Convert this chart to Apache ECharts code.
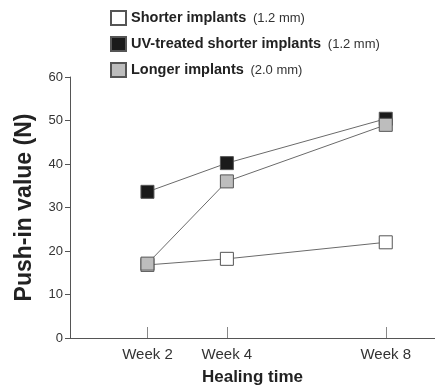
<!DOCTYPE html>
<html><head><meta charset="utf-8">
<script src="https://cdn.jsdelivr.net/npm/echarts@6/dist/echarts.min.js"></script>
<style>html,body{margin:0;padding:0;background:#fff}#c{width:435px;height:391px}</style>
</head><body><div id="c"></div>
<script>
const weeks = [2, 4, 8];
const weekLabels = ['Week 2', 'Week 4', 'Week 8'];
const seriesNames = ['Shorter implants', 'UV-treated shorter implants', 'Longer implants'];
const seriesSizes = ['(1.2 mm)', '(1.2 mm)', '(2.0 mm)'];
const shorter = [16.8, 18.2, 22.0];
const uvShorter = [33.6, 40.2, 50.4];
const longer = [17.1, 36.0, 49.0];
const yTicks = [0, 10, 20, 30, 40, 50, 60];
const fills = ['#ffffff', '#1a1a1a', '#bdbdbd'];
const allValues = [shorter, uvShorter, longer];

const font = 'Arial, "Liberation Sans", sans-serif';
const chart = echarts.init(document.getElementById('c'));
chart.setOption({
  animation: false,
  textStyle: {fontFamily: font},
  grid: {left: 70, right: 0, top: 77, bottom: 50, containLabel: false},
  legend: {
    orient: 'vertical', left: 110, top: 10, padding: 0,
    itemWidth: 15, itemHeight: 14, itemGap: 10,
    icon: 'rect',
    data: seriesNames,
    formatter: function (name) {
      const i = seriesNames.indexOf(name);
      return '{b|' + name + '}  {n|' + seriesSizes[i] + '}';
    },
    textStyle: {
      rich: {
        b: {fontFamily: font, fontWeight: 'bold', fontSize: 14.5, color: '#222', lineHeight: 15},
        n: {fontFamily: font, fontSize: 13, color: '#333', lineHeight: 15}
      }
    }
  },
  xAxis: {
    type: 'value', min: 0.05, max: 9.24,
    name: 'Healing time', nameLocation: 'middle', nameGap: 31,
    nameTextStyle: {fontFamily: font, fontWeight: 'bold', fontSize: 17, color: '#222'},
    axisLine: {show: true, onZero: false, lineStyle: {color: '#555', width: 1}},
    axisTick: {show: true, inside: true, length: 11, customValues: weeks, lineStyle: {color: '#888'}},
    axisLabel: {customValues: weeks, formatter: function (v) { return weekLabels[weeks.indexOf(v)] || ''; }, fontSize: 15, color: '#333', margin: 9, fontFamily: font},
    splitLine: {show: false}
  },
  yAxis: {
    type: 'value', min: 0, max: 60, interval: 10,
    name: 'Push-in value (N)', nameLocation: 'middle', nameGap: 34,
    nameTextStyle: {fontFamily: font, fontWeight: 'bold', fontSize: 23, color: '#222'},
    axisLine: {show: true, lineStyle: {color: '#555', width: 1}},
    axisTick: {show: true, length: 5, lineStyle: {color: '#555'}},
    axisLabel: {fontSize: 13, color: '#333', margin: 7, fontFamily: font,
      formatter: function (v) { return yTicks.indexOf(v) >= 0 ? String(v) : ''; }},
    splitLine: {show: false}
  },
  series: seriesNames.map(function (name, i) {
    return {
      name: name, type: 'line',
      data: weeks.map(function (w, j) { return [w, allValues[i][j]]; }),
      symbol: 'rect', symbolSize: 13,
      lineStyle: {color: '#6a6a6a', width: 1},
      itemStyle: {color: fills[i], borderColor: '#555', borderWidth: 1},
      z: 2 + i
    };
  })
});
</script>
</body></html>
